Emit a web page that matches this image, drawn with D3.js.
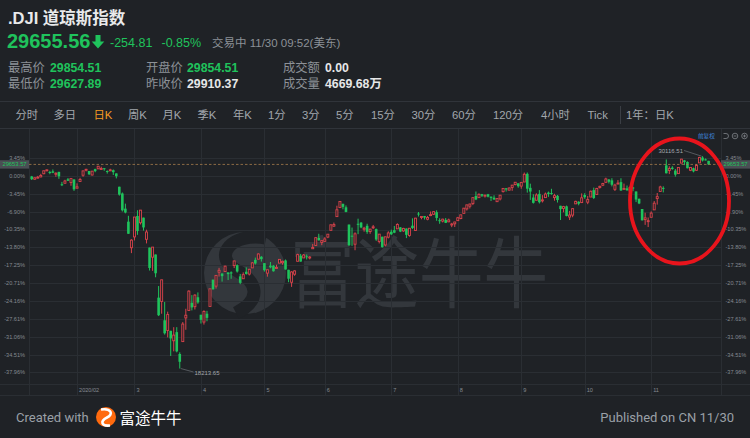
<!DOCTYPE html>
<html><head><meta charset="utf-8">
<script src="https://cdn.jsdelivr.net/npm/d3@7"></script>
<style>
html,body{margin:0;padding:0;background:#1f2226;}
svg{display:block;}
</style></head><body>
<svg id="c" width="750" height="438"></svg>
<script>
// ---------- DATA (DJI daily candles, 2020) ----------
const dates = [
"1/10","1/13","1/14","1/15","1/16","1/17","1/21","1/22","1/23","1/24","1/27","1/28","1/29","1/30","1/31",
"2/3","2/4","2/5","2/6","2/7","2/10","2/11","2/12","2/13","2/14","2/18","2/19","2/20","2/21","2/24","2/25","2/26","2/27","2/28",
"3/2","3/3","3/4","3/5","3/6","3/9","3/10","3/11","3/12","3/13","3/16","3/17","3/18","3/19","3/20","3/23","3/24","3/25","3/26","3/27","3/30","3/31",
"4/1","4/2","4/3","4/6","4/7","4/8","4/9","4/13","4/14","4/15","4/16","4/17","4/20","4/21","4/22","4/23","4/24","4/27","4/28","4/29","4/30",
"5/1","5/4","5/5","5/6","5/7","5/8","5/11","5/12","5/13","5/14","5/15","5/18","5/19","5/20","5/21","5/22","5/26","5/27","5/28","5/29",
"6/1","6/2","6/3","6/4","6/5","6/8","6/9","6/10","6/11","6/12","6/15","6/16","6/17","6/18","6/19","6/22","6/23","6/24","6/25","6/26","6/29","6/30",
"7/1","7/2","7/6","7/7","7/8","7/9","7/10","7/13","7/14","7/15","7/16","7/17","7/20","7/21","7/22","7/23","7/24","7/27","7/28","7/29","7/30","7/31",
"8/3","8/4","8/5","8/6","8/7","8/10","8/11","8/12","8/13","8/14","8/17","8/18","8/19","8/20","8/21","8/24","8/25","8/26","8/27","8/28","8/31",
"9/1","9/2","9/3","9/4","9/8","9/9","9/10","9/11","9/14","9/15","9/16","9/17","9/18","9/21","9/22","9/23","9/24","9/25","9/28","9/29","9/30",
"10/1","10/2","10/5","10/6","10/7","10/8","10/9","10/12","10/13","10/14","10/15","10/16","10/19","10/20","10/21","10/22","10/23","10/26","10/27","10/28","10/29","10/30",
"11/2","11/3","11/4","11/5","11/6","11/9","11/10","11/11","11/12","11/13","11/16","11/17","11/18","11/19","11/20","11/23","11/24","11/25","11/27","11/30"];

const opens = [
28977,28823,28891,28953,29131,29313,29230,29263,29100,29235,28542,28599,28820,28641,28813,
28319,28697,29048,29361,29286,29060,29390,29406,29393,29440,29286,29305,29329,29150,28403,28025,27175,26445,24984,
25590,26763,26384,26671,25457,24992,24453,24604,22185,21973,20917,20345,20327,19769,20253,19028,19722,21050,21468,21898,21679,22208,
21227,20819,21285,21693,23194,22831,23612,23541,23650,23598,23604,23985,24004,23378,23245,23638,23506,23854,24304,24342,24478,
24120,23560,23986,23984,23840,24121,24142,24271,23747,23049,23500,24224,24538,24412,24503,24432,24926,25108,25533,25277,
25342,25581,25958,26194,26728,27233,27447,27251,26282,25659,25181,26326,26393,26016,26213,25889,26144,26028,25334,25601,25138,25575,
25880,25966,26042,26125,25927,26061,25673,26220,25949,26901,26723,26764,26582,26832,26859,26977,26529,26477,26545,26436,26283,26325,
26502,26619,26910,27161,27311,27465,27883,27791,27987,27878,27981,27848,27790,27565,27718,28129,28318,28210,28364,28523,28593,
28439,28667,29126,28341,27797,27645,28002,27646,27794,28074,28050,27793,27891,27335,27186,27304,26705,26812,27443,27559,27514,
27941,27536,27825,28214,27970,28364,28488,28650,28808,28760,28257,28557,28662,28267,28311,28164,28359,28137,27724,27155,26562,26475,
26691,27106,27743,28134,28338,29600,29314,29472,29308,29139,29726,29881,29792,29326,29441,29325,29740,30041,29936,29854.51];

const highs = [
29009,28909,29010,29127,29300,29373,29297,29373,29211,29242,28674,28791,28892,28879,28813,
28592,28903,29308,29408,29286,29277,29415,29568,29527,29441,29318,29410,29370,29150,28403,28081,27455,26773,25464,
26706,27084,27102,26671,25994,24992,25020,24604,22837,23190,21948,21401,20328,20531,20531,19121,20817,21563,22596,22328,22378,22480,
21227,21477,21447,22680,23196,23435,23856,23541,23980,23598,23659,24264,24050,23516,23602,23887,23802,24186,24432,24670,24514,
24120,23757,24184,24007,24031,24331,24257,24325,23747,23672,23717,24648,24638,24631,24607,24516,25198,25548,25766,25402,
25578,25743,26270,26395,27339,27580,27447,27355,26282,26115,25847,26611,26418,26155,26328,26048,26261,26059,25751,25601,25596,25907,
25998,26204,26353,26141,26099,26064,26087,26631,26656,26986,26755,26764,26768,27015,27024,27082,26635,26608,26647,26615,26380,26432,
26712,26830,27216,27391,27451,27792,28135,28032,28001,27959,28002,27849,27922,27762,27935,28308,28321,28363,28502,28660,28593,
28659,29199,29200,28575,27983,28035,28214,27930,28077,28132,28287,28006,27941,27336,27330,27346,27048,27198,27617,27591,28029,
28041,27887,28188,28354,28342,28459,28621,28909,28835,28880,28570,28774,28878,28579,28470,28423,28396,28137,27744,27155,26946,26677,
27020,27601,28051,28457,28427,29933,29548,29555,29395,29480,29964,29904,29826,29499,29473,29667,30082,30116.51,29987,29854.51];

const lows = [
28779,28798,28863,28930,29103,29277,29104,29163,28959,28847,28440,28576,28734,28459,28169,
28319,28697,28963,29263,29056,29035,29218,29406,29347,29299,29138,29297,29062,28870,27904,27014,26911,25760,24681,
25391,25706,26286,25943,25226,23706,23690,23328,21154,21285,20116,19958,18917,19177,19121,18213.65,19722,20384,21451,21470,21522,21843,
20735,20677,20863,21693,22637,22692,23367,23083,23650,23172,23244,23843,23591,22942,23245,23476,23427,23854,24041,24342,24208,
23645,23361,23832,23645,23820,24121,24032,23764,23052,22789,23413,24224,24200,24412,24323,24330,24926,25095,25383,25127,
25342,25521,25958,26154,26728,27233,27136,26970,25082,25090,24843,25744,26076,25885,25764,25765,26029,25369,25224,24989,25058,25505,
25702,25800,26042,25860,25876,25523,25602,26038,25933,26734,26579,26564,26522,26752,26823,26494,26325,26404,26366,26417,26136,26147,
26502,26578,26910,27069,27184,27373,27653,27790,27827,27795,27806,27604,27659,27557,27633,28080,28133,28205,28174,28480,28346,
28289,28667,28074,27664,27458,27645,27464,27519,27794,27838,27951,27620,27517,26537,26969,26742,26537,26693,27443,27363,27488,
27728,27425,27825,27713,27970,28301,28438,28619,28585,28421,28164,28554,28164,28267,28170,28026,28153,27542,27427,26510,26265,26143,
26691,27106,27401,28134,28084,29147,29111,29355,28968,29139,29726,29614,29435,29279,29210,29288,29740,29818,29874,29627.89];

const closes = [
28823.77,28907.05,28939.67,29030.22,29297.64,29348.10,29196.04,29186.27,29160.09,28989.73,28535.80,28722.85,28734.45,28859.44,28256.03,
28399.81,28807.63,29290.85,29379.77,29102.51,29276.82,29276.34,29551.42,29423.31,29398.08,29232.19,29348.03,29219.98,28992.41,27960.80,27081.36,26957.59,25766.64,25409.36,
26703.32,25917.41,27090.86,26121.28,25864.78,23851.02,25018.16,23553.22,21200.62,23185.62,20188.52,21237.38,19898.92,20087.19,19173.98,18591.93,20704.91,21200.55,22552.17,21636.78,22327.48,21917.16,
20943.51,21413.44,21052.53,22679.99,22653.86,23433.57,23719.37,23390.77,23949.76,23504.35,23537.68,24242.49,23650.44,23018.88,23475.82,23515.26,23775.27,24133.78,24101.55,24633.86,24345.72,
23723.69,23749.76,23883.09,23664.64,23875.89,24331.32,24221.99,23764.78,23247.97,23625.34,23685.42,24597.37,24206.86,24575.90,24474.12,24465.16,24995.11,25548.27,25400.64,25383.11,
25475.02,25742.65,26269.89,26281.82,27110.98,27572.44,27272.30,26989.99,25128.17,25605.54,25763.16,26289.98,26119.61,26080.10,25871.46,26024.96,26156.10,25445.94,25745.60,25015.55,25595.80,25812.88,
25734.97,25827.36,26287.03,25890.18,26067.28,25706.09,26075.30,26085.80,26642.59,26870.10,26734.71,26671.95,26680.87,26840.40,27005.84,26652.33,26469.89,26584.77,26379.28,26539.57,26313.65,26428.32,
26664.40,26828.47,27201.52,27386.98,27433.48,27791.44,27686.91,27976.84,27896.72,27931.02,27844.91,27778.07,27692.88,27739.73,27930.33,28308.46,28248.44,28331.92,28492.27,28653.87,28430.05,
28645.66,29100.50,28292.73,28133.31,27500.89,27940.47,27534.58,27665.64,27993.33,27995.60,28032.38,27901.98,27657.42,27147.70,27288.18,26763.13,26815.44,27173.96,27584.06,27452.66,27781.70,
27816.90,27682.81,28148.64,27772.76,28303.46,28425.51,28586.90,28837.52,28679.81,28514.00,28494.20,28606.31,28195.42,28308.79,28210.82,28363.66,28335.57,27685.38,27463.19,26519.95,26659.11,26501.60,
26925.05,27480.03,27847.66,28390.18,28323.40,29157.97,29420.92,29397.63,29080.17,29479.81,29950.44,29783.35,29438.42,29483.23,29263.48,29591.27,30046.24,29872.47,29910.37,29653.57];

const yTickLabels = ["3.45%","0.00%","-3.45%","-6.90%","-10.35%","-13.80%","-17.25%","-20.71%","-24.16%","-27.61%","-31.06%","-34.51%","-37.96%"];
const monthLabels = ["2020/02","3","4","5","6","7","8","9","10","11"];
const tabs = ["分时","多日","日K","周K","月K","季K","年K","1分","3分","5分","15分","30分","60分","120分","4小时","Tick"];
const basePrice = 29007;

// ---------- STYLE ----------
const BG="#1f2226", GRID="#2a2e33", AX="#858a91", GREEN="#1fc35c", RED="#d9434b", ORANGE="#f59b23";
const FONT="'Liberation Sans','Noto Sans CJK SC',Arial,sans-serif";
const svg=d3.select("#c");
svg.append("rect").attr("width",750).attr("height",438).attr("fill",BG);

// ---------- HEADER ----------
const hdr=svg.append("g").attr("font-family",FONT);
hdr.append("text").attr("x",8).attr("y",24).attr("font-size",16.5).attr("font-weight","bold").attr("fill","#e9eaeb").text(".DJI 道琼斯指数");
hdr.append("text").attr("x",7).attr("y",48).attr("font-size",20).attr("font-weight","bold").attr("fill",GREEN).text("29655.56");
hdr.append("path").attr("d","M95.5,35 h5 v6.5 h3.8 l-6.3,7 l-6.3,-7 h3.8 z").attr("fill",GREEN);
hdr.append("text").attr("x",110).attr("y",47).attr("font-size",12.5).attr("fill",GREEN).text("-254.81");
hdr.append("text").attr("x",161.5).attr("y",47).attr("font-size",12.5).attr("fill",GREEN).text("-0.85%");
hdr.append("text").attr("x",212).attr("y",47).attr("font-size",11.5).attr("fill","#8c9197").text("交易中 11/30 09:52(美东)");
const rows=[
 [8,71.5,"最高价",50,"29854.51",GREEN],[146,71.5,"开盘价",187,"29854.51",GREEN],[283,71.5,"成交额",325,"0.00","#e6e7e8"],
 [8,87.5,"最低价",50,"29627.89",GREEN],[146,87.5,"昨收价",187,"29910.37","#e6e7e8"],[283,87.5,"成交量",325,"4669.68万","#e6e7e8"]];
rows.forEach(r=>{
  hdr.append("text").attr("x",r[0]).attr("y",r[1]).attr("font-size",12.3).attr("fill","#8c9197").text(r[2]);
  hdr.append("text").attr("x",r[3]).attr("y",r[1]).attr("font-size",12.3).attr("font-weight","bold").attr("fill",r[5]).text(r[4]);
});
svg.append("line").attr("x1",0).attr("x2",750).attr("y1",101.5).attr("y2",101.5).attr("stroke","#30343a");
svg.append("line").attr("x1",0).attr("x2",750).attr("y1",128.5).attr("y2",128.5).attr("stroke","#30343a");
const tabX=[15.5,53.5,93.5,128,162.5,197.5,233,268,302,336,371,411.5,452,493,541,587.5];
tabs.forEach((t,i)=>{
  hdr.append("text").attr("x",tabX[i]).attr("y",119).attr("font-size",11.3)
     .attr("fill",t==="日K"?ORANGE:"#a2a7ad").text(t);
});
svg.append("line").attr("x1",620.5).attr("x2",620.5).attr("y1",106).attr("y2",124).attr("stroke","#3a3e44");
hdr.append("text").attr("x",626).attr("y",119).attr("font-size",11.3).attr("fill","#a2a7ad").text("1年：日K");

// ---------- SCALES ----------
const N=closes.length;
const x=d3.scaleLinear().domain([0,N-1]).range([31.7,708.6]);
const yTicks=yTickLabels.map(s=>parseFloat(s));
const y=d3.scaleLinear().domain([yTicks[0],yTicks[yTicks.length-1]]).range([158.1,372.4]);
const py=p=>y((p/basePrice-1)*100);
const L=29, R=721, T=129, B=384, XB=395;

// ---------- WATERMARK ----------
const wm=svg.append("g");
const WMC="#33373c";
wm.append("circle").attr("cx",245).attr("cy",273).attr("r",41).attr("fill",WMC);
wm.append("path").attr("d","M266,238 C232,232 212,256 236,270 C258,282 262,300 236,313")
  .attr("fill","none").attr("stroke",BG).attr("stroke-width",13);
wm.append("text").attr("x",290).attr("y",302).attr("font-family","'Noto Sans CJK SC',sans-serif")
  .attr("font-size",78).attr("textLength",258).attr("lengthAdjust","spacingAndGlyphs").attr("fill",WMC).text("富途牛牛");

// ---------- GRID ----------
const grid=svg.append("g").attr("stroke",GRID).attr("shape-rendering","crispEdges");
yTicks.forEach(v=>grid.append("line").attr("x1",L).attr("x2",R).attr("y1",Math.round(y(v))+0.5).attr("y2",Math.round(y(v))+0.5));
const monthStarts=[];
dates.forEach((d,i)=>{ if(i>0 && d.split("/")[0]!==dates[i-1].split("/")[0]) monthStarts.push(i); });
[L,R].forEach(v=>grid.append("line").attr("x1",v+0.5).attr("x2",v+0.5).attr("y1",T).attr("y2",XB));
monthStarts.forEach(i=>grid.append("line").attr("x1",Math.round(x(i))+0.5).attr("x2",Math.round(x(i))+0.5).attr("y1",T).attr("y2",XB));
grid.append("line").attr("x1",0).attr("x2",750).attr("y1",B+0.5).attr("y2",B+0.5);
grid.append("line").attr("x1",0).attr("x2",750).attr("y1",XB+0.5).attr("y2",XB+0.5);

// axis labels
const ax=svg.append("g").attr("font-family","'Liberation Sans',Arial,sans-serif").attr("font-size",5.6).attr("fill",AX);
yTicks.forEach((v,k)=>{
  ax.append("text").attr("x",25).attr("y",y(v)).attr("dy","0.35em").attr("text-anchor","end").text(yTickLabels[k]);
  ax.append("text").attr("x",725.5).attr("y",y(v)).attr("dy","0.35em").text(yTickLabels[k]);
});
monthStarts.forEach((i,k)=>{
  ax.append("text").attr("x",x(i)+2).attr("y",391.5).text(monthLabels[k]);
});

// ---------- CANDLES ----------
const cg=svg.append("g");
for(let i=0;i<N;i++){
  const o=opens[i], c=closes[i], h=highs[i], l=lows[i];
  const up=c>=o, col=up?RED:GREEN, cx=x(i);
  cg.append("line").attr("x1",cx).attr("x2",cx).attr("y1",py(h)).attr("y2",py(l)).attr("stroke",col).attr("stroke-width",1);
  const yt=py(Math.max(o,c)), yb=py(Math.min(o,c));
  const hh=Math.max(1,yb-yt);
  if(up){
    cg.append("rect").attr("x",cx-1).attr("y",yt).attr("width",2).attr("height",hh)
      .attr("fill",BG).attr("stroke",col).attr("stroke-width",0.9);
  } else {
    cg.append("rect").attr("x",cx-1.3).attr("y",yt).attr("width",2.6).attr("height",hh).attr("fill",col);
  }
}

// max / min annotations
const iMax=d3.maxIndex(highs), iMin=d3.minIndex(lows);
const ann=svg.append("g").attr("font-family","'Liberation Sans',Arial,sans-serif").attr("font-size",6).attr("fill","#a3a7ad");
ann.append("line").attr("x1",684).attr("y1",150.5).attr("x2",x(iMax)-1).attr("y2",py(highs[iMax])).attr("stroke","#6d7177").attr("stroke-width",0.7);
ann.append("text").attr("x",683).attr("y",150.5).attr("dy","0.35em").attr("text-anchor","end").text(d3.format(".2f")(highs[iMax]));
ann.append("line").attr("x1",x(iMin)+1).attr("y1",py(lows[iMin])).attr("x2",193.5).attr("y2",372).attr("stroke","#6d7177").attr("stroke-width",0.7);
ann.append("text").attr("x",194.5).attr("y",373).attr("dy","0.35em").text(d3.format(".2f")(lows[iMin]));

// current price line + boxes
const last=closes[N-1], yl=py(last);
svg.append("line").attr("x1",L).attr("x2",R).attr("y1",yl).attr("y2",yl)
  .attr("stroke","#a77c4c").attr("stroke-width",0.8).attr("stroke-dasharray","2.5,2");
[[0,14.5],[721,735.5]].forEach(b=>{
  svg.append("rect").attr("x",b[0]).attr("y",yl-4.2).attr("width",29).attr("height",8.4).attr("fill","#4a4e54");
  svg.append("text").attr("x",b[1]).attr("y",yl).attr("dy","0.35em").attr("text-anchor","middle")
    .attr("font-family","'Liberation Sans',Arial,sans-serif").attr("font-size",5.8).attr("fill",GREEN).text(d3.format(".2f")(last));
});

// top-right controls
svg.append("text").attr("x",698).attr("y",136.5).attr("dy","0.35em").attr("font-family","'Noto Sans CJK SC',sans-serif")
  .attr("font-size",5.6).attr("fill","#3f86dc").text("前复权");
const ic=svg.append("g").attr("stroke","#8c9197").attr("fill","none").attr("stroke-width",0.7);
ic.append("path").attr("d","M723.5,133.5 h2.5 a2.5,2.5 0 0 1 0,5 h-2.5");
ic.append("circle").attr("cx",735).attr("cy",136).attr("r",2.8);
ic.append("line").attr("x1",733.6).attr("x2",736.4).attr("y1",136).attr("y2",136);
ic.append("circle").attr("cx",744.5).attr("cy",136).attr("r",2.8);
ic.append("line").attr("x1",743.1).attr("x2",745.9).attr("y1",136).attr("y2",136);
ic.append("line").attr("x1",744.5).attr("x2",744.5).attr("y1",134.6).attr("y2",137.4);

// hand-drawn red highlight ellipse around the November rally
svg.append("ellipse").attr("cx",679.5).attr("cy",201).attr("rx",49.5).attr("ry",62.5)
  .attr("fill","none").attr("stroke","#e8141c").attr("stroke-width",3.8);

// ---------- FOOTER ----------
const ft=svg.append("g").attr("font-family","Roboto,'Liberation Sans',sans-serif").attr("font-size",13).attr("fill","#9aa0a7");
ft.append("text").attr("x",16).attr("y",422).text("Created with");
ft.append("text").attr("x",734).attr("y",422).attr("text-anchor","end").text("Published on CN 11/30");
svg.append("circle").attr("cx",106).attr("cy",417).attr("r",10).attr("fill","#ff6a0e");
svg.append("path").attr("d","M101,409.5 C111,408 114,414 107,417.5 C100,421 101,426.5 110,425.5")
  .attr("fill","none").attr("stroke","#ffffff").attr("stroke-width",2.6);
svg.append("text").attr("x",119.5).attr("y",423.5).attr("font-family","'Noto Sans CJK SC',sans-serif").attr("font-size",15.5)
  .attr("fill","#ffffff").text("富途牛牛");
</script>
</body></html>
